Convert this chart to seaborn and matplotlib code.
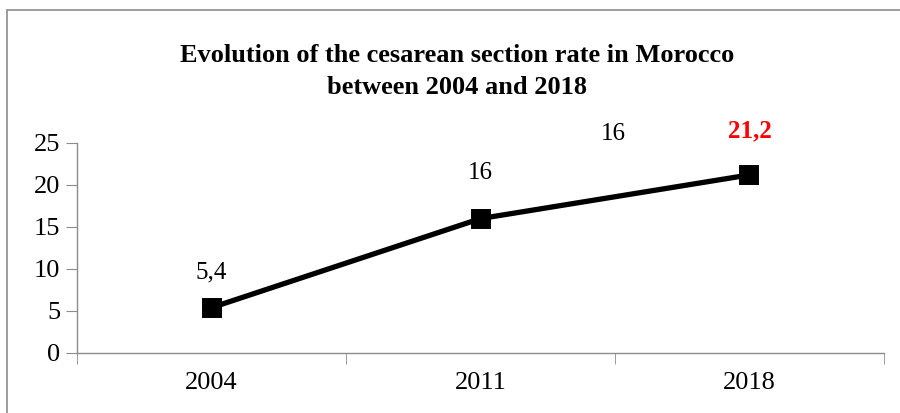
import pandas as pd
import matplotlib.pyplot as plt
import seaborn as sns
from matplotlib.patches import Rectangle

# data
years = ["2004", "2011", "2018"]
rates = [5.4, 16, 21.2]
labels = ["5,4", "16", "21,2"]

df = pd.DataFrame({"year": years, "rate": rates})

sns.set_style("white")
plt.rcParams['font.family'] = ['Liberation Serif', 'DejaVu Serif']
plt.rcParams['text.color'] = 'black'

fig = plt.figure(figsize=(9, 4.13), dpi=100)
ax = fig.add_axes([0.0856, 0.1453, 0.8966, 0.5085])

sns.pointplot(data=df, x="year", y="rate", color="black", markers="s",
              linestyles="-", ax=ax, markersize=11, linewidth=3.8)

ax.set_xlim(-0.5, 2.5)
ax.set_ylim(0, 25)
ax.set_yticks([0, 5, 10, 15, 20, 25])
ax.set_xlabel("")
ax.set_ylabel("")

for side in ["top", "right"]:
    ax.spines[side].set_visible(False)
for side in ["left", "bottom"]:
    ax.spines[side].set_color("#8c8c8c")
    ax.spines[side].set_linewidth(1)

ax.tick_params(axis="y", left=True, length=8, color="#8c8c8c", labelsize=19, pad=4)
ax.tick_params(axis="x", which="major", length=0, labelsize=19, pad=14)
ax.set_xticks([-0.5, 0.5, 1.5, 2.5], minor=True)
ax.tick_params(axis="x", which="minor", bottom=True, length=8, color="#8c8c8c")
for t in ax.get_yticklabels() + ax.get_xticklabels():
    t.set_color("black")

# data labels
offsets = [25, 33, 32]
for i, (v, lab, off) in enumerate(zip(rates, labels, offsets)):
    red = i == 2
    ax.annotate(lab, (i, v), xytext=(0, off), textcoords="offset points",
                ha="center", va="center", fontsize=18,
                color="red" if red else "black",
                fontweight="bold" if red else "normal", annotation_clip=False)

# stray label
ax.annotate("16", (1, rates[1]), xytext=(96, 61), textcoords="offset points",
            ha="center", va="center", fontsize=18, color="black", annotation_clip=False)

fig.text(0.508, 0.828, "Evolution of the cesarean section rate in Morocco\nbetween 2004 and 2018",
         ha="center", va="center", fontsize=19, fontweight="bold", color="black",
         linespacing=1.5)

fig.patches.append(Rectangle((0.008, -0.1), 1.2, 1.076, transform=fig.transFigure,
                             fill=False, edgecolor="#8c8c8c", linewidth=1.2))

fig.savefig("out.png", dpi=100)
